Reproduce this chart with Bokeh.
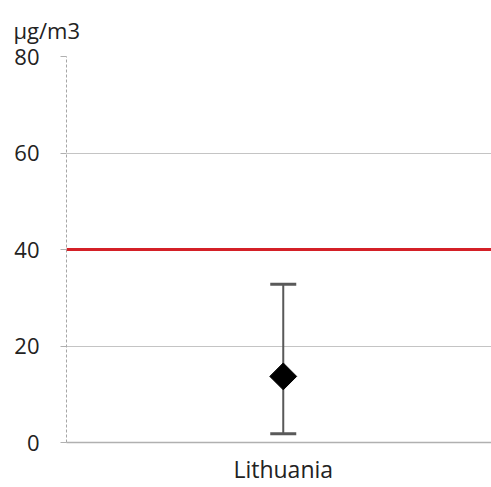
from bokeh.plotting import figure
from bokeh.models import Range1d, FixedTicker, Whisker, ColumnDataSource, Span, TeeHead
from bokeh.embed import file_html
from bokeh.resources import INLINE

# ---- data ----
countries = ["Lithuania"]
mean_values = [13.7]
min_values = [1.8]
max_values = [32.8]
limit_value = 40
y_ticks = [0, 20, 40, 60, 80]
unit_label = "µg/m3"

x_idx = list(range(len(countries)))
src = ColumnDataSource(dict(x=x_idx, mean=mean_values, lower=min_values, upper=max_values))

FONT = "Open Sans"
TXT = "#222222"
FS = "22px"

p = figure(width=491, height=487, output_backend="svg", toolbar_location=None,
           x_range=Range1d(-0.51, 0.49), y_range=Range1d(0, 80),
           min_border_left=66, min_border_right=0, min_border_top=56, min_border_bottom=44)
p.outline_line_color = None
p.background_fill_color = "white"
p.border_fill_color = "white"

# title (unit)
p.title.text = unit_label
p.title.align = "left"
p.title.offset = -53
p.title.standoff = 24
p.title.text_font = FONT
p.title.text_font_size = "22px"
p.title.text_font_style = "normal"
p.title.text_color = TXT

# grid
p.xgrid.grid_line_color = None
p.ygrid.grid_line_color = "#c4c4c4"
p.ygrid.grid_line_width = 1
p.ygrid.ticker = FixedTicker(ticks=y_ticks)

# y axis
p.yaxis.ticker = FixedTicker(ticks=y_ticks)
p.yaxis.axis_line_color = "#a6a6a6"
p.yaxis.axis_line_dash = "3 2"
p.yaxis.axis_line_width = 1
p.yaxis.major_tick_line_color = "#b0b0b0"
p.yaxis.major_tick_out = 6
p.yaxis.major_tick_in = 0
p.yaxis.minor_tick_line_color = None
p.yaxis.major_label_text_font = FONT
p.yaxis.major_label_text_font_size = FS
p.yaxis.major_label_text_color = TXT
p.yaxis.major_label_standoff = 21

# x axis
p.xaxis.ticker = FixedTicker(ticks=x_idx)
p.xaxis.major_label_overrides = {i: c for i, c in zip(x_idx, countries)}
p.xaxis.axis_line_color = "#b0b0b0"
p.xaxis.axis_line_width = 1.5
p.xaxis.major_tick_line_color = None
p.xaxis.major_tick_out = 0
p.xaxis.major_tick_in = 0
p.xaxis.minor_tick_line_color = None
p.xaxis.major_label_text_font = FONT
p.xaxis.major_label_text_font_size = "23px"
p.xaxis.major_label_text_color = TXT
p.xaxis.major_label_standoff = 10

# limit line
p.add_layout(Span(location=limit_value, dimension="width", line_color="#d42027", line_width=3))

# error bar
ERR = "#595959"
w = Whisker(base="x", lower="lower", upper="upper", source=src,
            line_color=ERR, line_width=2,
            upper_head=TeeHead(size=26, line_color=ERR, line_width=3),
            lower_head=TeeHead(size=26, line_color=ERR, line_width=3))
p.add_layout(w)

p.scatter(x="x", y="mean", source=src, marker="square", angle=0.785398,
          size=19, fill_color="black", line_color="black")

open("out.html", "w").write(file_html(p, INLINE))
